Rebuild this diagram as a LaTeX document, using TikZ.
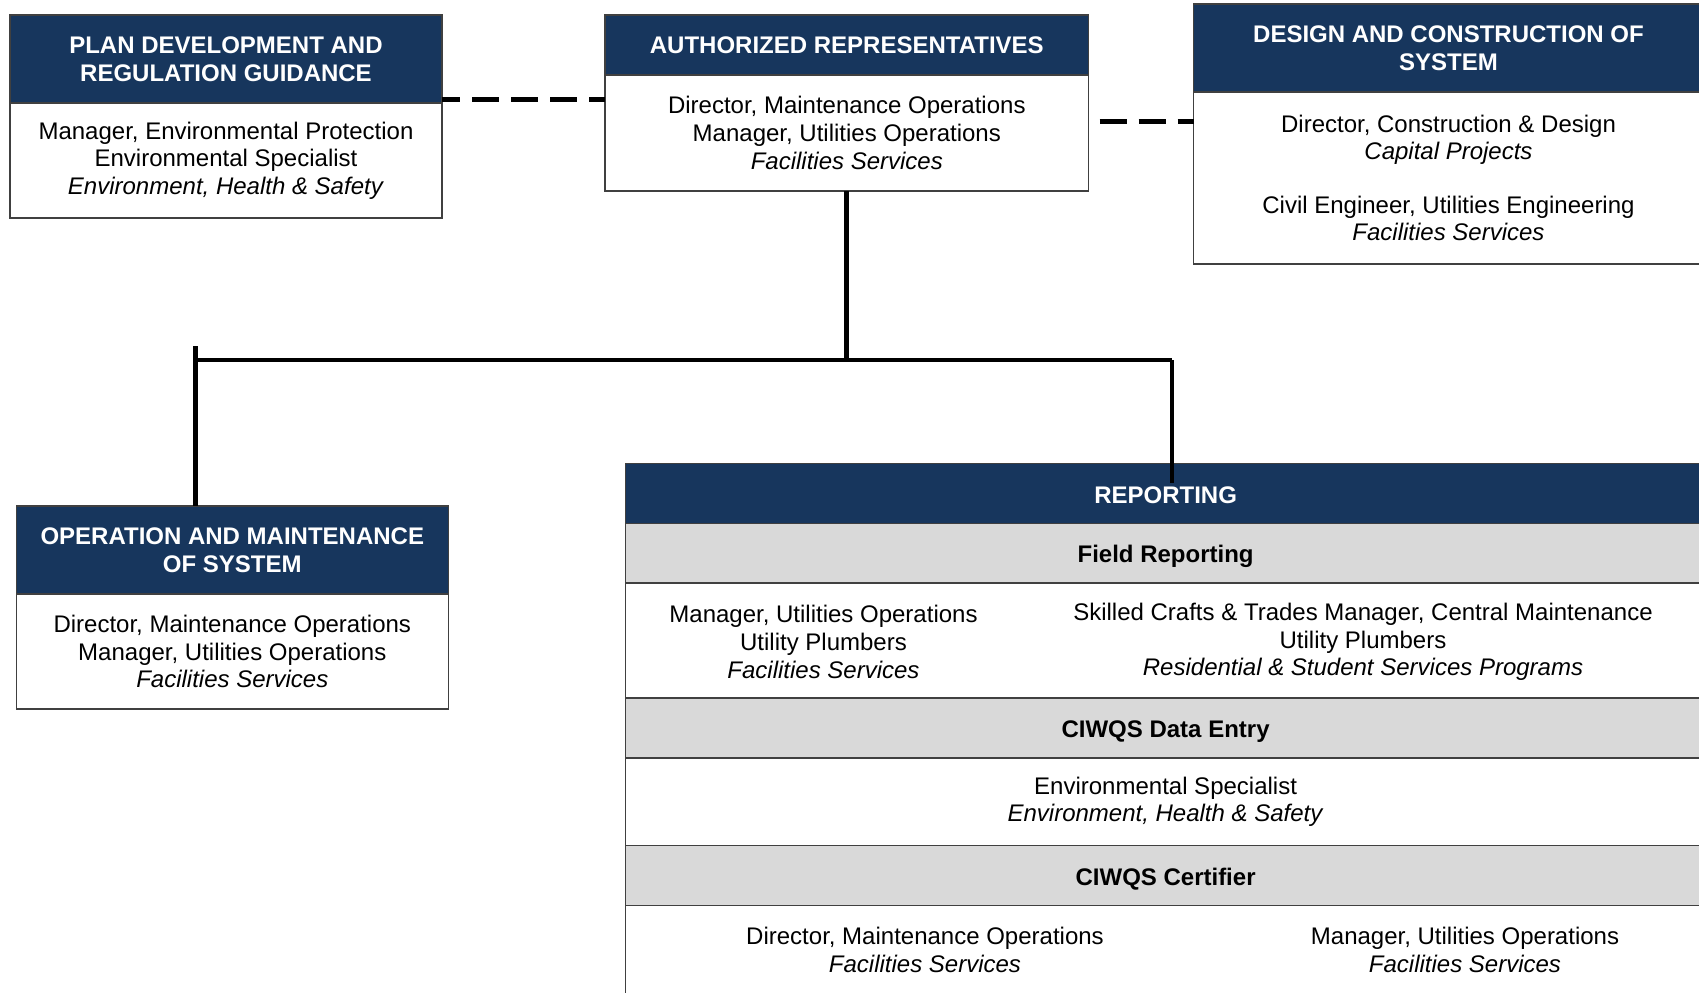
\documentclass[tikz,border=0pt]{standalone}
\usepackage{fontspec}
\setmainfont{Liberation Sans}
\usetikzlibrary{positioning}
\definecolor{navy}{HTML}{17365D}
\definecolor{rowgray}{HTML}{D9D9D9}
\definecolor{boxline}{HTML}{404040}
\tikzset{
  orgbox/.style={draw=boxline, fill=white, line width=0.7pt, align=center, inner sep=0pt,
    outer sep=0pt, anchor=north west, font=\fontsize{12}{13.8}\selectfont},
  headbox/.style={orgbox, fill=navy, text=white, font=\fontsize{12}{14}\selectfont\bfseries},
  graybox/.style={orgbox, fill=rowgray, text height=9.6pt, text depth=0pt,
    font=\fontsize{12}{14}\selectfont\bfseries},
  celltext/.style={align=center, inner sep=0pt, font=\fontsize{12}{13.8}\selectfont},
  trunk/.style={line width=2.4pt},
  dashline/.style={line width=2.5pt, dash pattern=on 13.5pt off 6pt}
}
\begin{document}
\begin{tikzpicture}[x=0.5pt,y=-0.5pt]
  \clip (0,0) rectangle (1699,992);
  % top row
  \node[headbox, minimum width=216pt, minimum height=44pt] (planh) at (10,15) {PLAN DEVELOPMENT AND\\REGULATION GUIDANCE};
  \node[orgbox, minimum width=216pt, minimum height=57.5pt, below=0pt of planh] (planb) {Manager, Environmental Protection\\Environmental Specialist\\\textit{Environment, Health \& Safety}};
  \node[headbox, minimum width=241.8pt, minimum height=30pt] (authh) at (605,15) {AUTHORIZED REPRESENTATIVES};
  \node[orgbox, minimum width=241.8pt, minimum height=58pt, below=0pt of authh] (authb) {Director, Maintenance Operations\\Manager, Utilities Operations\\\textit{Facilities Services}};
  \node[headbox, minimum width=255pt, minimum height=44pt] (desh) at (1193.5,4) {DESIGN AND CONSTRUCTION OF\\SYSTEM};
  \node[orgbox, minimum width=255pt, minimum height=86pt, below=0pt of desh] (desb) {Director, Construction \& Design\\\textit{Capital Projects}\\[13pt]Civil Engineer, Utilities Engineering\\\textit{Facilities Services}};
  % left branch
  \node[headbox, minimum width=216pt, minimum height=44pt] (opsh) at (16.3,506) {OPERATION AND MAINTENANCE\\OF SYSTEM};
  \node[orgbox, minimum width=216pt, minimum height=57.5pt, below=0pt of opsh] (opsb) {Director, Maintenance Operations\\Manager, Utilities Operations\\\textit{Facilities Services}};
  % reporting table
  \node[headbox, text height=9.6pt, text depth=0pt, minimum width=540pt, minimum height=30pt] (reph) at (625.6,463.5) {REPORTING};
  \node[graybox, minimum width=540pt, minimum height=29.75pt, below=0pt of reph] (fieldh) {Field Reporting};
  \node[orgbox, minimum width=540pt, minimum height=57.5pt, below=0pt of fieldh] (fieldb) {};
  \node[graybox, minimum width=540pt, minimum height=30pt, below=0pt of fieldb] (entryh) {CIWQS Data Entry};
  \node[orgbox, minimum width=540pt, minimum height=43.75pt, below=0pt of entryh] (entryb) {Environmental Specialist\\\textit{Environment, Health \& Safety}};
  \node[graybox, minimum width=540pt, minimum height=30pt, below=0pt of entryb] (certh) {CIWQS Certifier};
  \node[orgbox, minimum width=540pt, minimum height=50pt, below=0pt of certh] (certb) {};
  \node[celltext] (fieldl) at (823.5,642) {Manager, Utilities Operations\\Utility Plumbers\\\textit{Facilities Services}};
  \node[celltext] (fieldr) at (1363,642) {Skilled Crafts \& Trades Manager, Central Maintenance\\Utility Plumbers\\\textit{Residential \& Student Services Programs}};
  \node[celltext] (certl) at (925,950) {Director, Maintenance Operations\\\textit{Facilities Services}};
  \node[celltext] (certr) at (1465,950) {Manager, Utilities Operations\\\textit{Facilities Services}};
  % connectors
  \coordinate (busl) at (195.6,360);
  \coordinate (busr) at (1172,360);
  \draw[trunk] (authb.south) -- (authb.south |- busl);
  \draw[trunk] (busl) -- (busr);
  \draw[trunk] ([yshift=7pt]busl) -- (busl |- opsh.north);
  \draw[trunk] (busr) -- ([yshift=-9.75pt]busr |- reph.north);
  \draw[dashline, dash phase=4.5pt] ([yshift=1.85pt]planh.south east) -- ([yshift=1.85pt]planh.south east -| authb.west);
  \draw[dashline, dash phase=14pt] ([yshift=5.65pt]authb.east) -- ([yshift=5.65pt]authb.east -| desb.west);
\end{tikzpicture}
\end{document}
